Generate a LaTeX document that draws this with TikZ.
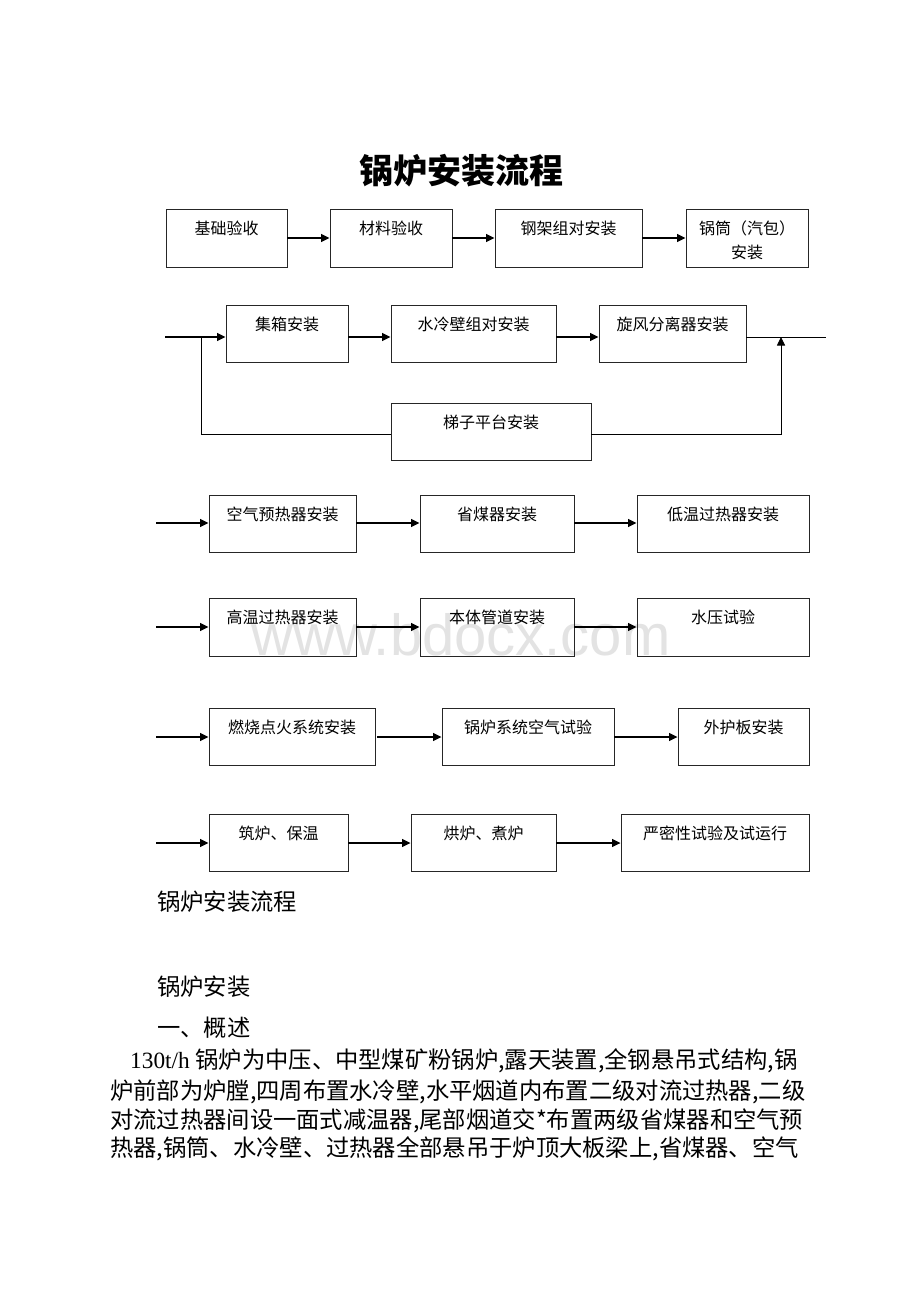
\documentclass[tikz,border=0pt]{standalone}
\usepackage{fontspec}
\setmainfont{Liberation Serif}
\newfontfamily\cjk{Noto Sans CJK SC}
\newfontfamily\wmfont{Liberation Sans}
\usetikzlibrary{arrows.meta,calc,fit}
\newcommand\mkbox[6]{%
  \node[box, fit={(#2,#4) (#3,#5)}] (#1) {};
  \node[lab] (#1-t) at ($(#1.north)+(0,20)$) {#6};
}
\begin{document}
\begin{tikzpicture}[x=1pt,y=-1pt,
  box/.style={draw=black!85, line width=0.9pt, inner sep=0pt},
  lab/.style={font=\cjk\fontsize{16}{19}\selectfont, inner sep=0pt},
  arr/.style={line width=1.4pt, -{Triangle[length=8.5pt,width=8pt]}},
  thinarr/.style={line width=0.9pt, -{Triangle[length=8.5pt,width=8pt]}},
  ln/.style={line width=0.9pt},
  body/.style={font=\cjk\fontsize{23.3}{29}\selectfont, anchor=west, inner sep=0pt}]
\useasboundingbox[fill=white] (0,0) rectangle (920,1302);

% watermark
\node[font=\wmfont\fontsize{58}{58}\selectfont, text=black!11, anchor=base, inner sep=0pt] (wm) at (461,655) {www.bdocx.com};

% title
\node[font=\cjk\bfseries\fontsize{34}{40}\selectfont, inner sep=0pt] (title) at (461,171) {锅炉安装流程};

% row 1
\mkbox{b1}{166}{287}{209}{267}{基础验收}
\mkbox{b2}{330}{452}{209}{267}{材料验收}
\mkbox{b3}{495}{642}{209}{267}{钢架组对安装}
\mkbox{b4}{686}{808}{209}{267}{锅筒（汽包）}
\node[lab] (b4-t2) at ($(b4.north)+(0,44)$) {安装};
\draw[arr] (b1.east) -- (b2.west);
\draw[arr] (b2.east) -- (b3.west);
\draw[arr] (b3.east) -- (b4.west);

% row 2
\mkbox{b5}{226}{348}{305}{362}{集箱安装}
\mkbox{b6}{391}{556}{305}{362}{水冷壁组对安装}
\mkbox{b7}{599}{746}{305}{362}{旋风分离器安装}
\mkbox{b8}{391}{591}{403}{460}{梯子平台安装}
\coordinate (s2) at (165,337);
\coordinate (br) at (201,337);
\coordinate (lo) at (201,434);
\coordinate (up) at (781,337);
\coordinate (r2end) at (826,337);
\draw[arr] (s2) -- (b5.west |- s2);
\draw[arr] (b5.east |- s2) -- (b6.west |- s2);
\draw[arr] (b6.east |- s2) -- (b7.west |- s2);
\draw[ln] (b7.east |- s2) -- (r2end);
\draw[ln] (br) -- (lo) -- (b8.west |- lo);
\draw[thinarr] (b8.east |- lo) -| (up);

% row 3
\mkbox{c1}{209}{356}{495}{552}{空气预热器安装}
\mkbox{c2}{420}{574}{495}{552}{省煤器安装}
\mkbox{c3}{637}{809}{495}{552}{低温过热器安装}
\coordinate (s3) at (156,523);
\draw[arr] (s3) -- (c1.west |- s3);
\draw[arr] (c1.east |- s3) -- (c2.west |- s3);
\draw[arr] (c2.east |- s3) -- (c3.west |- s3);

% row 4
\mkbox{d1}{209}{356}{598}{656}{高温过热器安装}
\mkbox{d2}{420}{574}{598}{656}{本体管道安装}
\mkbox{d3}{637}{809}{598}{656}{水压试验}
\coordinate (s4) at (156,627);
\draw[arr] (s4) -- (d1.west |- s4);
\draw[arr] (d1.east |- s4) -- (d2.west |- s4);
\draw[arr] (d2.east |- s4) -- (d3.west |- s4);

% row 5
\mkbox{e1}{209}{375}{708}{765}{燃烧点火系统安装}
\mkbox{e2}{442}{614}{708}{765}{锅炉系统空气试验}
\mkbox{e3}{678}{809}{708}{765}{外护板安装}
\coordinate (s5) at (156,737);
\draw[arr] (s5) -- (e1.west |- s5);
\draw[arr] ([xshift=2pt]e1.east |- s5) -- (e2.west |- s5);
\draw[arr] (e2.east |- s5) -- (e3.west |- s5);

% row 6
\mkbox{f1}{209}{348}{814}{871}{筑炉、保温}
\mkbox{f2}{411}{556}{814}{871}{烘炉、煮炉}
\mkbox{f3}{621}{809}{814}{871}{严密性试验及试运行}
\coordinate (s6) at (156,843);
\draw[arr] (s6) -- (f1.west |- s6);
\draw[arr] (f1.east |- s6) -- (f2.west |- s6);
\draw[arr] (f2.east |- s6) -- (f3.west |- s6);

% text below
\node[body] (t1) at (157,902) {锅炉安装流程};
\node[body] (t2) at (157,987) {锅炉安装};
\node[body] (t3) at (157,1028) {一、概述};
\node[body] (p1) at (130,1061) {{\rmfamily 130t/h }锅炉为中压、中型煤矿粉锅炉,露天装置,全钢悬吊式结构,锅};
\node[body] (p2) at (110,1092) {炉前部为炉膛,四周布置水冷壁,水平烟道内布置二级对流过热器,二级};
\node[body] (p3) at (110,1121) {对流过热器间设一面式减温器,尾部烟道交*布置两级省煤器和空气预};
\node[body] (p4) at (110,1149) {热器,锅筒、水冷壁、过热器全部悬吊于炉顶大板梁上,省煤器、空气};
\end{tikzpicture}
\end{document}
